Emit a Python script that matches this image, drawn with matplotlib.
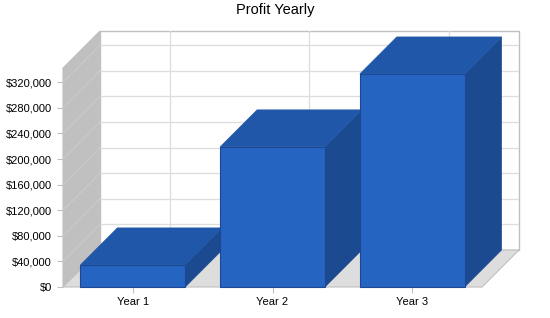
import matplotlib.pyplot as plt
from matplotlib.patches import Polygon
from matplotlib.ticker import FuncFormatter
import numpy as np

plt.rcParams['font.family'] = ['Liberation Sans', 'DejaVu Sans']

# data
years = ['Year 1', 'Year 2', 'Year 3']
profit = [34500, 219000, 333000]
yticks = list(range(0, 320001, 40000))

# colours
front_c = '#2564C1'
top_c = '#2157A8'
side_c = '#1C4A90'
edge_c = '#1B4794'
wall_c = '#C0C0C0'
floor_c = '#DDDDDD'
grid_c = '#DDDDDD'

fig = plt.figure(figsize=(5.5, 3.18), dpi=100)
ax = fig.add_axes([63 / 550, 31 / 318, (519 - 63) / 550, (287 - 31) / 318])

# depth offset (in data units) for the fake 3d look
dx = 37 / 140
dy = 37 / 204.7 * 320000
x0, x1 = -0.5, 2.5
wall_top = 342300

ax.set_xlim(x0, x1 + dx)
ax.set_ylim(0, wall_top + dy)

# back wall
ax.add_patch(Polygon([(x0 + dx, dy), (x1 + dx, dy), (x1 + dx, wall_top + dy), (x0 + dx, wall_top + dy)],
                     closed=True, facecolor='white', edgecolor=wall_c, lw=1, zorder=1, clip_on=False))
for v in yticks[1:]:
    ax.plot([x0 + dx, x1 + dx], [v + dy, v + dy], color=grid_c, lw=0.9, zorder=1.5)
for i in range(len(years)):
    ax.plot([i + dx, i + dx], [dy, wall_top + dy], color=grid_c, lw=0.9, zorder=1.5)

# left wall
ax.add_patch(Polygon([(x0, 0), (x0 + dx, dy), (x0 + dx, wall_top + dy), (x0, wall_top)],
                     closed=True, facecolor=wall_c, edgecolor=wall_c, lw=0.8, zorder=2, clip_on=False))
for v in yticks[1:]:
    ax.plot([x0, x0 + dx], [v, v + dy], color='#CACACA', lw=0.8, zorder=2.5)

# floor
ax.add_patch(Polygon([(x0, 0), (x1, 0), (x1 + dx, dy), (x0 + dx, dy)],
                     closed=True, facecolor=floor_c, edgecolor=wall_c, lw=0.8, zorder=2, clip_on=False))

# bars
w = 0.375
for i, v in enumerate(profit):
    z = 3 + i
    ax.add_patch(Polygon([(i + w, 0), (i + w + dx, dy), (i + w + dx, v + dy), (i + w, v)],
                         closed=True, facecolor=side_c, edgecolor=side_c, lw=0.5, zorder=z))
    ax.add_patch(Polygon([(i - w, v), (i + w, v), (i + w + dx, v + dy), (i - w + dx, v + dy)],
                         closed=True, facecolor=top_c, edgecolor=top_c, lw=0.5, zorder=z))
    ax.add_patch(Polygon([(i - w, 0), (i + w, 0), (i + w, v), (i - w, v)],
                         closed=True, facecolor=front_c, edgecolor=edge_c, lw=0.8, zorder=z + 0.1,
                         clip_on=False))

# axes
for s in ax.spines.values():
    s.set_visible(False)
ax.set_yticks(yticks)
ax.yaxis.set_major_formatter(FuncFormatter(lambda x, p: f'${x:,.0f}'))
ax.set_xticks(range(len(years)))
ax.set_xticklabels(years)
ax.tick_params(axis='both', labelsize=8, color=wall_c, length=4.5, width=0.8, pad=3)
ax.tick_params(axis='y', pad=3.5)

fig.text(0.5, 1 - 10 / 318, 'Profit Yearly', ha='center', va='center', fontsize=10.5)

fig.savefig('out.png', dpi=100)
